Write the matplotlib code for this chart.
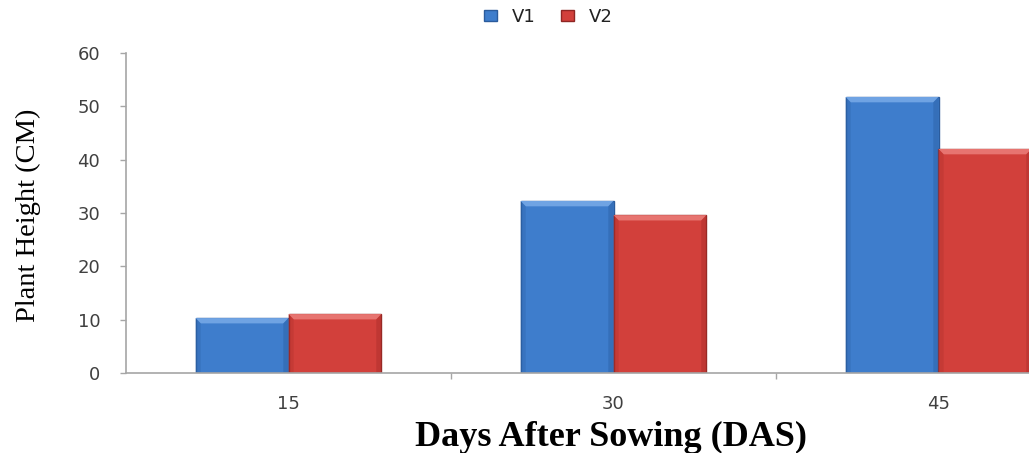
import matplotlib
matplotlib.use("Agg")
import matplotlib.pyplot as plt
import numpy as np
from matplotlib.patches import Patch, Polygon

plt.rcParams["font.family"] = ["DejaVu Sans"]

# Plant height by days after sowing for two varieties
days = ["15", "30", "45"]
series_names = ["V1", "V2"]
v1_height = [10.3, 32.25, 51.75]
v2_height = [11.05, 29.6, 42.0]
y_ticks = [0, 10, 20, 30, 40, 50, 60]

blue_face = "#3e7dcc"
blue_light = "#6fa3e3"
blue_dark = "#2f66ad"
blue_edge = "#2a5b9c"
red_face = "#d2403b"
red_light = "#e77470"
red_dark = "#b3322e"
red_edge = "#8f2623"

fig = plt.figure(figsize=(10.29, 4.53), dpi=100)
ax = fig.add_axes([126 / 1029, 80 / 453, 975 / 1029, 320 / 453])

x = np.arange(len(days))
bar_w = 0.286
bars_v1 = ax.bar(x - bar_w / 2, v1_height, width=bar_w, color=blue_face,
                 edgecolor=blue_edge, linewidth=1.0, label=series_names[0])
bars_v2 = ax.bar(x + bar_w / 2, v2_height, width=bar_w, color=red_face,
                 edgecolor=red_edge, linewidth=1.0, label=series_names[1])

ax.set_xlim(-0.5, len(days) - 0.5)
ax.set_ylim(0, 60)


def add_bevel(bars, light, dark):
    # Bevelled look: a light strip on top and darker strips down the sides
    bx = 0.016  # bevel width in category units
    by = 1.0    # bevel depth in value units
    for p in bars:
        x0, y0 = p.get_x(), p.get_y()
        w, h = p.get_width(), p.get_height()
        x1, y1 = x0 + w, y0 + h
        ax.add_patch(Polygon([(x0, y1), (x1, y1), (x1 - bx, y1 - by), (x0 + bx, y1 - by)],
                             closed=True, facecolor=light, edgecolor="none", zorder=2.1))
        ax.add_patch(Polygon([(x0, y0), (x0, y1), (x0 + bx, y1 - by), (x0 + bx, y0)],
                             closed=True, facecolor=dark, edgecolor="none", alpha=0.4, zorder=2.1))
        ax.add_patch(Polygon([(x1, y0), (x1, y1), (x1 - bx, y1 - by), (x1 - bx, y0)],
                             closed=True, facecolor=dark, edgecolor="none", alpha=0.6, zorder=2.1))


add_bevel(bars_v1, blue_light, blue_dark)
add_bevel(bars_v2, red_light, red_dark)

ax.set_yticks(y_ticks)
ax.set_yticklabels([str(t) for t in y_ticks])
ax.set_xticks(x)
ax.set_xticklabels(days)
ax.set_xticks(np.arange(len(days)) + 0.5, minor=True)

for side in ("top", "right"):
    ax.spines[side].set_visible(False)
for side in ("left", "bottom"):
    ax.spines[side].set_color("#a6a6a6")
    ax.spines[side].set_linewidth(1.2)
    ax.spines[side].set_zorder(3)

ax.tick_params(axis="y", which="major", length=4.5, width=1.0, color="#a6a6a6",
               labelsize=13, labelcolor="#404040", pad=14)
ax.tick_params(axis="x", which="major", length=0, labelsize=13,
               labelcolor="#404040", pad=16)
ax.tick_params(axis="x", which="minor", length=4.5, width=1.0, color="#a6a6a6")

ax.set_ylabel("Plant Height (CM)", fontfamily="Liberation Serif",
              fontsize=20.5, color="black", va="center")
ax.yaxis.set_label_coords(-0.1005, 0.494)
ax.set_xlabel("Days After Sowing (DAS)", fontfamily="Liberation Serif",
              fontweight="bold", fontsize=26, color="black", va="center")
ax.xaxis.set_label_coords(0.497, -0.2)

handles = [Patch(facecolor=blue_face, edgecolor=blue_edge, label=series_names[0]),
           Patch(facecolor=red_face, edgecolor=red_edge, label=series_names[1])]
fig.legend(handles=handles, loc="center", bbox_to_anchor=(548 / 1029, 1 - 17 / 453),
           ncol=2, frameon=False, fontsize=13, handlelength=0.75, handleheight=0.5,
           handletextpad=0.8, columnspacing=1.4, labelcolor="#222222",
           borderpad=0.2)

fig.savefig("out.png", dpi=100)
